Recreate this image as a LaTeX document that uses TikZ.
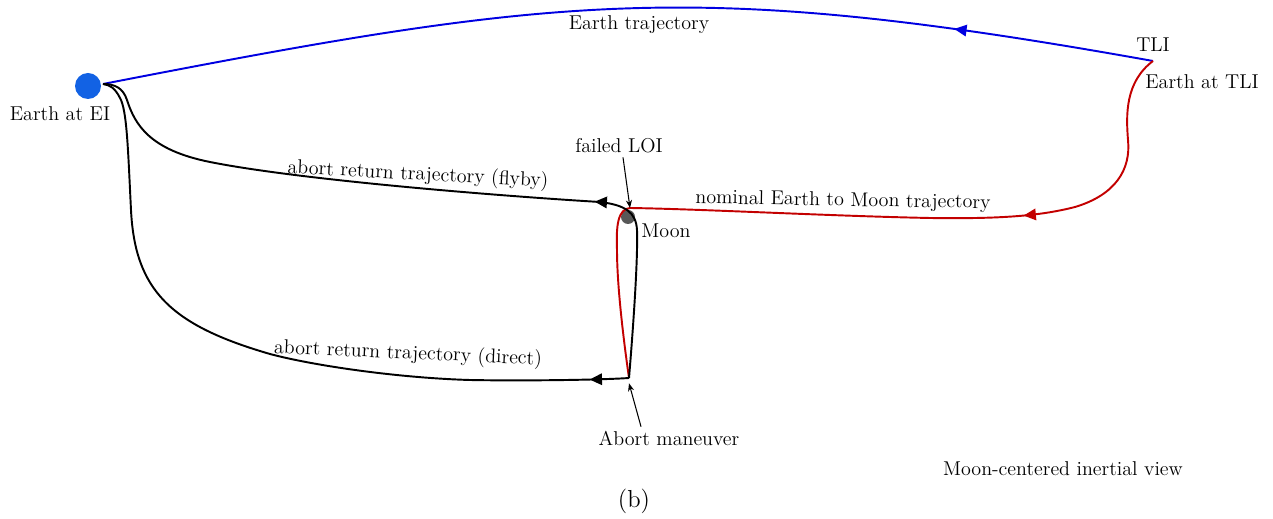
\documentclass[tikz,border=0pt]{standalone}
\usetikzlibrary{arrows.meta,decorations.markings}
\definecolor{trajblue}{RGB}{0,0,225}
\definecolor{trajred}{RGB}{195,0,0}
\definecolor{earthblue}{RGB}{18,98,228}
\definecolor{moongray}{RGB}{88,88,88}
\begin{document}
\begin{tikzpicture}[x=0.02cm,y=-0.02cm,
  traj/.style={line width=1.1pt,line join=round},
  midarrow/.style={postaction={decorate},decoration={markings,mark=at position #1 with {\arrow{Triangle[length=7pt,width=6.5pt]}}}},
  lbl/.style={font=\fontsize{11.4}{13}\selectfont,inner sep=1pt},
  pointer/.style={line width=0.6pt,-{Stealth[length=4.5pt,width=3.5pt]}}]
\useasboundingbox (0,0) rectangle (1273,519);
% bodies
\node[circle,fill=earthblue,minimum size=0.52cm,inner sep=0pt] (E) at (88,86) {};
\node[circle,fill=moongray,minimum size=0.28cm,inner sep=0pt] (M) at (628,217) {};
\coordinate (TLI) at (1153,61);
\coordinate (LOI) at (630,208);
\coordinate (AB) at (629,378);
\coordinate (EI) at (103,84);
% Earth trajectory
\draw[traj,trajblue,midarrow=0.19] (TLI) .. controls (695,-21) and (561,-5) .. (EI);
% nominal Earth to Moon trajectory
\draw[traj,trajred,midarrow=0.29] (TLI)
  .. controls (1125,82) and (1126,115) .. (1128,140)
  .. controls (1131,170) and (1115,195) .. (1075,207)
  .. controls (1040,216) and (1000,219) .. (930,218)
  .. controls (830,216) and (700,209) .. (LOI)
  .. controls (618,209) and (616,225) .. (617,250)
  .. controls (617,290) and (625,350) .. (AB);
% abort return trajectory (flyby)
\draw[traj,midarrow=0.28] (AB)
  .. controls (633,330) and (638,260) .. (637,230)
  .. controls (636,212) and (625,205) .. (600,202)
  .. controls (500,196) and (300,180) .. (210,162)
  .. controls (150,150) and (135,125) .. (127,100)
  .. controls (123,88) and (115,84) .. (EI);
% abort return trajectory (direct)
\draw[traj,midarrow=0.055] (AB)
  .. controls (600,380) and (520,381) .. (470,380)
  .. controls (400,378) and (315,366) .. (270,354)
  .. controls (170,325) and (135,290) .. (131,210)
  .. controls (128,150) and (127,110) .. (120,98)
  .. controls (115,88) and (110,85) .. (EI);
% labels
\node[lbl] (lEt) at (639,25) {Earth trajectory};
\node[lbl] (lTLI) at (1153,45) {TLI};
\node[lbl] (lEaT) at (1202,82) {Earth at TLI};
\node[lbl] (lEEI) at (60,114) {Earth at EI};
\node[lbl] (lLOI) at (619,146) {failed LOI};
\node[lbl] (lMoon) at (666,231) {Moon};
\node[lbl] (lAbort) at (669,438) {Abort maneuver};
\node[lbl] (lView) at (1063,469) {Moon-centered inertial view};
\node[font=\fontsize{14}{16}\selectfont] (lb) at (634,501) {(b)};
\node[lbl,rotate=-3] (lFly) at (418,175) {abort return trajectory (flyby)};
\node[lbl,rotate=-1] (lNom) at (843,201) {nominal Earth to Moon trajectory};
\node[lbl,rotate=-2.5] (lDir) at (408,354) {abort return trajectory (direct)};
% pointers
\draw[pointer] (lLOI.south) ++(4,2) -- (LOI);
\draw[pointer] (lAbort.north) ++(-28,-2) -- ([yshift=-3]AB);
\end{tikzpicture}
\end{document}
